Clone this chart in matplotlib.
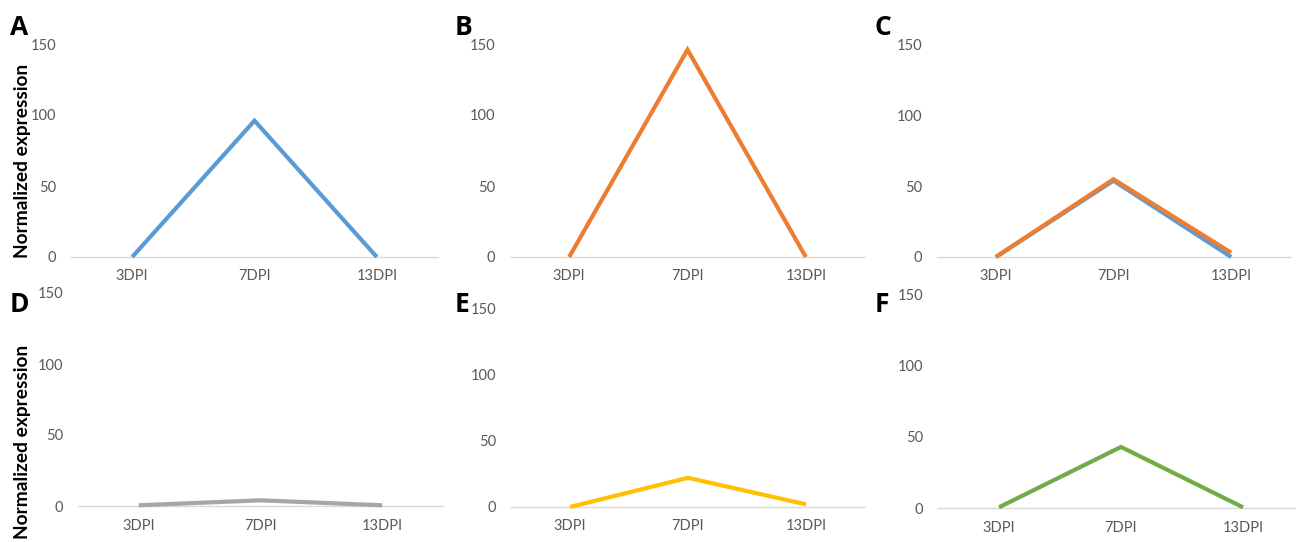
import matplotlib
matplotlib.use("Agg")
import matplotlib.pyplot as plt

plt.rcParams['font.family'] = ['Lato', 'DejaVu Sans']

# data
days = ["3DPI", "7DPI", "13DPI"]
a_blue = [0, 96, 0]
b_orange = [0, 146, 0]
c_blue = [0, 54, 0]
c_orange = [0, 55, 3]
d_gray = [0.5, 4, 0.5]
e_yellow = [0, 22, 2]
f_green = [0.5, 43, 0.5]

yticks = [0, 50, 100, 150]
letters = ["A", "B", "C", "D", "E", "F"]
ylab = "Normalized expression"

blue, orange, gray, yellow, green = "#5B9BD5", "#ED7D31", "#A5A5A5", "#FFC000", "#70AD47"

W, H = 1296, 542
fig = plt.figure(figsize=(W / 100, H / 100), dpi=100)

# pixel boxes: x left, x right, y of 0, y of 150
boxes = [
    (71, 438, 257, 44),
    (510, 865, 257, 44),
    (937, 1290, 257, 45),
    (78, 443, 506, 293),
    (511, 865, 507, 308),
    (938, 1304, 508, 295),
]
series = [
    [(a_blue, blue)],
    [(b_orange, orange)],
    [(c_blue, blue), (c_orange, orange)],
    [(d_gray, gray)],
    [(e_yellow, yellow)],
    [(f_green, green)],
]
letter_pos = [(10, 35), (455, 35), (875, 35), (10, 312), (455, 312), (875, 312)]

for i, (x0, x1, yb, yt) in enumerate(boxes):
    ax = fig.add_axes([x0 / W, 1 - yb / H, (x1 - x0) / W, (yb - yt) / H])
    ax.patch.set_alpha(0)
    for vals, col in series[i]:
        ax.plot(range(len(days)), vals, color=col, lw=3, solid_capstyle='butt',
                solid_joinstyle='miter', clip_on=False, zorder=3)
    ax.set_xlim(-0.5, len(days) - 0.5)
    ax.set_ylim(0, 150)
    ax.set_xticks(range(len(days)))
    ax.set_xticklabels(days)
    ax.set_yticks(yticks)
    ax.tick_params(length=0, labelsize=10.5, labelcolor="#595959")
    ax.tick_params(axis='y', pad=10.5)
    ax.tick_params(axis='x', pad=9)
    for s in ['top', 'right', 'left']:
        ax.spines[s].set_visible(False)
    ax.spines['bottom'].set_color("#D9D9D9")
    ax.spines['bottom'].set_linewidth(1)
    lx, ly = letter_pos[i]
    fig.text(lx / W, 1 - ly / H, letters[i], fontsize=19, fontweight='bold',
             ha='left', va='baseline', family=['Open Sans', 'DejaVu Sans'])

fig.text(23 / W, 1 - 161 / H, ylab, rotation=90, ha='center', va='center',
         fontsize=13.8, fontweight='bold')
fig.text(23 / W, 1 - 442 / H, ylab, rotation=90, ha='center', va='center',
         fontsize=13.8, fontweight='bold')

fig.savefig("out.png", dpi=100)
